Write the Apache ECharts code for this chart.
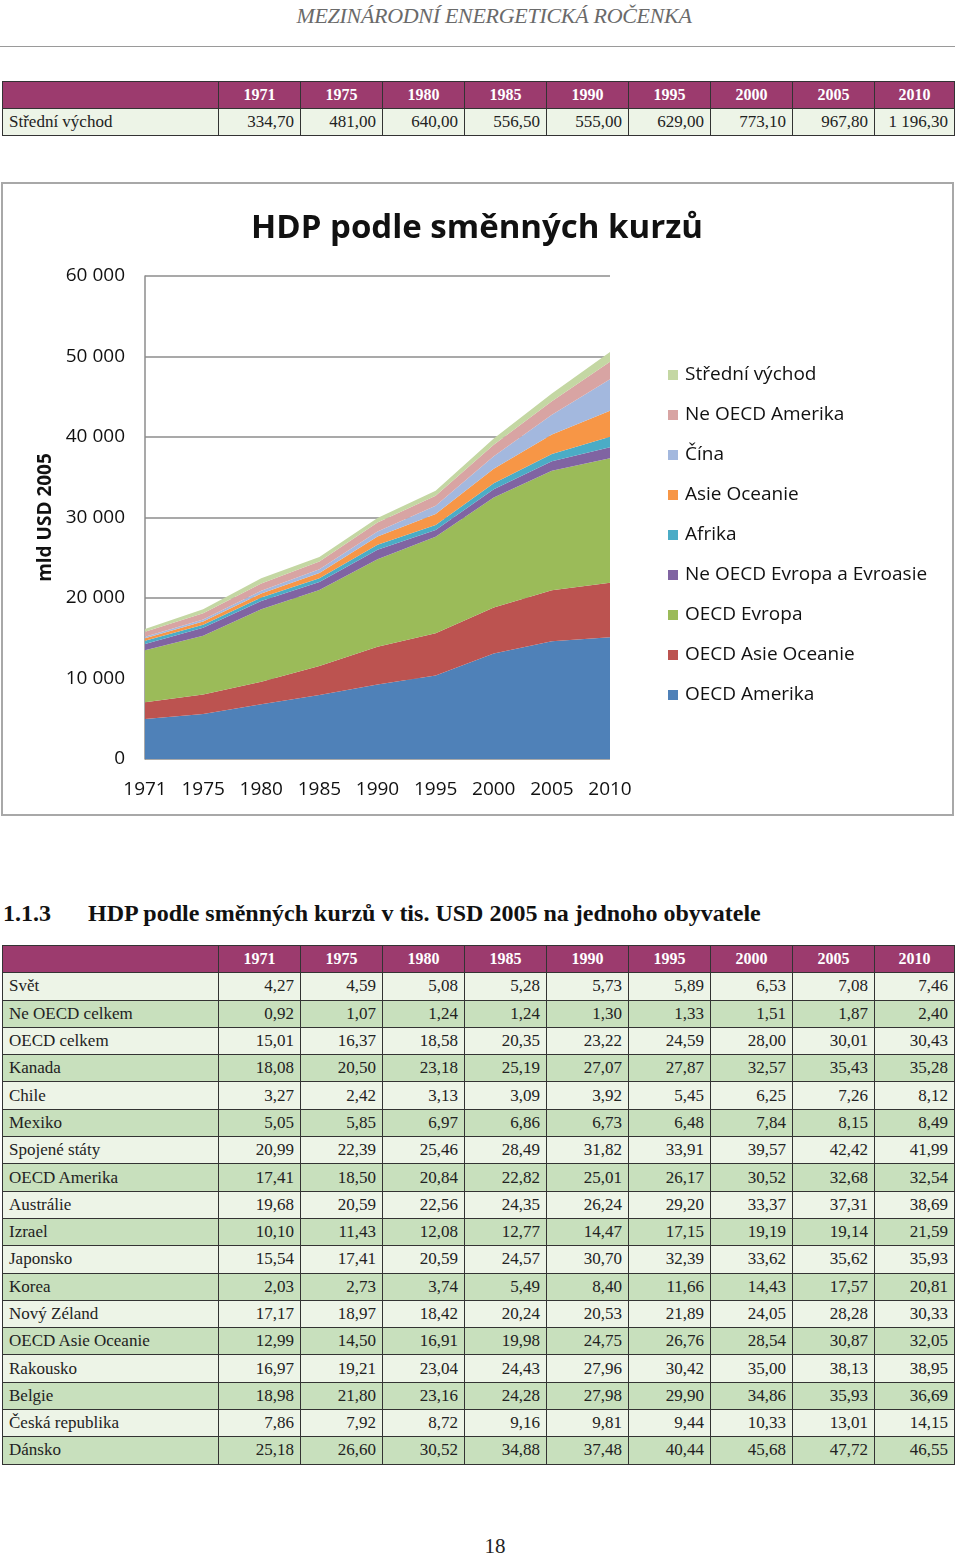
<!DOCTYPE html>
<html>
<head>
<meta charset="utf-8">
<script src="https://cdn.jsdelivr.net/npm/echarts@6/dist/echarts.min.js"></script>
<style>
  html, body { margin: 0; padding: 0; background: #fff; }
  body { width: 960px; height: 1554px; position: relative; overflow: hidden; font-family: "Liberation Serif", "Times New Roman", serif; }
  #runhead { position: absolute; left: 0; top: 3px; width: 988px; text-align: center; font-style: italic; font-size: 22px; color: #6a6a6a; letter-spacing: -0.3px; }
  #hline { position: absolute; left: 0; top: 46px; width: 955px; height: 0; border-top: 1.5px solid #9a9a9a; }
  table.t { position: absolute; left: 2px; border-collapse: collapse; table-layout: fixed; width: 952px; }
  table.t td, table.t th { border: 1.5px solid #333; padding: 0 6px; font-size: 17px; color: #222; white-space: nowrap; overflow: hidden; }
  table.t th { background: #9c3b6e; color: #fff; font-weight: bold; font-size: 16px; text-align: center; }
  table.t td.n { text-align: right; }
  table.t tr.l td { background: #edf4e7; }
  table.t tr.d td { background: #c8e0bd; }
  #t1 tr { height: 27px; }
  #t2 tr { height: 27.3px; }
  #t1 { top: 81px; }
  #t2 { top: 945px; }
  #sec { position: absolute; left: 3px; top: 900px; font-weight: bold; font-size: 24px; color: #111; white-space: nowrap; }
  #sec span { position: absolute; left: 85px; top: 0; }
  #pg { position: absolute; left: 0; width: 990px; top: 1534px; text-align: center; font-size: 21px; color: #222; }
  #chart { position: absolute; left: 0; top: 180px; width: 960px; height: 640px; }
</style>
</head>
<body>
<div id="runhead">MEZINÁRODNÍ ENERGETICKÁ ROČENKA</div>
<div id="hline"></div>
<table class="t" id="t1"></table>
<div id="chart"></div>
<div id="sec">1.1.3<span>HDP podle směnných kurzů v tis. USD 2005 na jednoho obyvatele</span></div>
<table class="t" id="t2"></table>
<div id="pg">18</div>
<script>
// ---------- data ----------
var years = ['1971', '1975', '1980', '1985', '1990', '1995', '2000', '2005', '2010'];
var yTicks = ['0', '10 000', '20 000', '30 000', '40 000', '50 000', '60 000'];

// Table 1 (Střední východ)
var table1Label = 'Střední východ';
var table1Values = ['334,70', '481,00', '640,00', '556,50', '555,00', '629,00', '773,10', '967,80', '1 196,30'];

// Chart series (mld USD 2005), stacked from bottom
var oecdAmerika      = [4970, 5590, 6800, 7950, 9250, 10370, 13100, 14620, 15130];
var oecdAsieOceanie  = [2080, 2410, 2800, 3600, 4700, 5240, 5720, 6330, 6770];
var oecdEvropa       = [6450, 7300, 9000, 9450, 10850, 11990, 13680, 14850, 15450];
var neOecdEvropa     = [800, 1000, 1040, 1000, 1200, 850, 1000, 1200, 1370];
var afrika           = [400, 370, 420, 450, 600, 620, 750, 900, 1320];
var asieOceanie      = [300, 400, 500, 650, 1040, 1380, 1800, 2400, 3230];
var cina             = [200, 250, 350, 480, 630, 1000, 1550, 2450, 3890];
var neOecdAmerika    = [610, 800, 900, 950, 1100, 1250, 1450, 1700, 2190];
var stredniVychod    = [334.7, 481, 640, 556.5, 555, 629, 773.1, 967.8, 1196.3];

var seriesNames = ['OECD Amerika', 'OECD Asie Oceanie', 'OECD Evropa', 'Ne OECD Evropa a Evroasie', 'Afrika', 'Asie Oceanie', 'Čína', 'Ne OECD Amerika', 'Střední východ'];
var seriesData = [oecdAmerika, oecdAsieOceanie, oecdEvropa, neOecdEvropa, afrika, asieOceanie, cina, neOecdAmerika, stredniVychod];
var seriesColors = ['#4f81b8', '#bc5350', '#9bbb59', '#8064a2', '#4bacc6', '#f79646', '#a3b8de', '#d8a4a3', '#c4d7a3'];

// Table 2 (HDP na obyvatele)
var t2Labels = ['Svět', 'Ne OECD celkem', 'OECD celkem', 'Kanada', 'Chile', 'Mexiko', 'Spojené státy', 'OECD Amerika', 'Austrálie', 'Izrael', 'Japonsko', 'Korea', 'Nový Zéland', 'OECD Asie Oceanie', 'Rakousko', 'Belgie', 'Česká republika', 'Dánsko'];
var t2Rows = [
  ['4,27', '4,59', '5,08', '5,28', '5,73', '5,89', '6,53', '7,08', '7,46'],
  ['0,92', '1,07', '1,24', '1,24', '1,30', '1,33', '1,51', '1,87', '2,40'],
  ['15,01', '16,37', '18,58', '20,35', '23,22', '24,59', '28,00', '30,01', '30,43'],
  ['18,08', '20,50', '23,18', '25,19', '27,07', '27,87', '32,57', '35,43', '35,28'],
  ['3,27', '2,42', '3,13', '3,09', '3,92', '5,45', '6,25', '7,26', '8,12'],
  ['5,05', '5,85', '6,97', '6,86', '6,73', '6,48', '7,84', '8,15', '8,49'],
  ['20,99', '22,39', '25,46', '28,49', '31,82', '33,91', '39,57', '42,42', '41,99'],
  ['17,41', '18,50', '20,84', '22,82', '25,01', '26,17', '30,52', '32,68', '32,54'],
  ['19,68', '20,59', '22,56', '24,35', '26,24', '29,20', '33,37', '37,31', '38,69'],
  ['10,10', '11,43', '12,08', '12,77', '14,47', '17,15', '19,19', '19,14', '21,59'],
  ['15,54', '17,41', '20,59', '24,57', '30,70', '32,39', '33,62', '35,62', '35,93'],
  ['2,03', '2,73', '3,74', '5,49', '8,40', '11,66', '14,43', '17,57', '20,81'],
  ['17,17', '18,97', '18,42', '20,24', '20,53', '21,89', '24,05', '28,28', '30,33'],
  ['12,99', '14,50', '16,91', '19,98', '24,75', '26,76', '28,54', '30,87', '32,05'],
  ['16,97', '19,21', '23,04', '24,43', '27,96', '30,42', '35,00', '38,13', '38,95'],
  ['18,98', '21,80', '23,16', '24,28', '27,98', '29,90', '34,86', '35,93', '36,69'],
  ['7,86', '7,92', '8,72', '9,16', '9,81', '9,44', '10,33', '13,01', '14,15'],
  ['25,18', '26,60', '30,52', '34,88', '37,48', '40,44', '45,68', '47,72', '46,55']
];

// ---------- tables ----------
function buildTable(el, labels, rows) {
  var html = '<colgroup><col style="width:216px">';
  for (var i = 0; i < years.length; i++) html += '<col style="width:' + (i === years.length - 1 ? 80 : 82) + 'px">';
  html += '</colgroup><tr><th></th>';
  years.forEach(function (y) { html += '<th>' + y + '</th>'; });
  html += '</tr>';
  labels.forEach(function (lab, r) {
    html += '<tr class="' + (r % 2 === 0 ? 'l' : 'd') + '"><td>' + lab + '</td>';
    rows[r].forEach(function (v) { html += '<td class="n">' + v + '</td>'; });
    html += '</tr>';
  });
  el.innerHTML = html;
}
buildTable(document.getElementById('t1'), [table1Label], [table1Values]);
buildTable(document.getElementById('t2'), t2Labels, t2Rows);

// ---------- chart ----------
var chart = echarts.init(document.getElementById('chart'), null, { renderer: 'canvas' });
var FONT = '"Open Sans", "Noto Sans", sans-serif';
var series = seriesNames.map(function (name, i) {
  return {
    name: name,
    type: 'line',
    stack: 'total',
    data: seriesData[i],
    symbol: 'none',
    showSymbol: false,
    lineStyle: { width: 0, opacity: 0 },
    areaStyle: { color: seriesColors[i], opacity: 1 },
    itemStyle: { color: seriesColors[i] },
    emphasis: { disabled: true },
    z: 2
  };
});
chart.setOption({
  animation: false,
  backgroundColor: 'transparent',
  textStyle: { fontFamily: FONT },
  title: {
    text: 'HDP podle směnných kurzů',
    left: 472, top: 27, textAlign: 'center',
    textStyle: { fontFamily: FONT, fontSize: 33, fontWeight: 'bold', color: '#111' }
  },
  graphic: [{
    type: 'rect', shape: { x: 2, y: 3, width: 951, height: 632 },
    style: { fill: 'none', stroke: '#a8a8a8', lineWidth: 2 }, silent: true, z: -1
  }],
  legend: {
    orient: 'vertical', left: 663, top: 180,
    itemWidth: 10, itemHeight: 10, itemGap: 20,
    icon: 'rect',
    data: seriesNames.slice().reverse(),
    textStyle: { fontFamily: FONT, fontSize: 19, color: '#111', lineHeight: 20, padding: [0, 0, 0, 2] },
    selectedMode: false
  },
  grid: { left: 145, right: 350, top: 96, bottom: 61, containLabel: false },
  xAxis: {
    type: 'category', data: years, boundaryGap: false,
    axisLine: { show: false }, axisTick: { show: false },
    axisLabel: { fontFamily: FONT, fontSize: 19, color: '#111', margin: 21 }
  },
  yAxis: {
    type: 'value', min: 0, max: 60000, interval: 10000,
    name: 'mld USD 2005', nameLocation: 'middle', nameGap: 90, nameRotate: 90,
    nameTextStyle: { fontFamily: FONT, fontSize: 19, fontWeight: 'bold', color: '#111' },
    axisLine: { show: true, lineStyle: { color: '#8c8c8c', width: 1.5 } },
    axisTick: { show: false },
    splitLine: { lineStyle: { color: '#8c8c8c', width: 1.5 } },
    axisLabel: {
      fontFamily: FONT, fontSize: 19, color: '#111', margin: 20,
      formatter: function (v) { return yTicks[Math.round(v / 10000)]; }
    }
  },
  series: series
});
</script>
</body>
</html>
